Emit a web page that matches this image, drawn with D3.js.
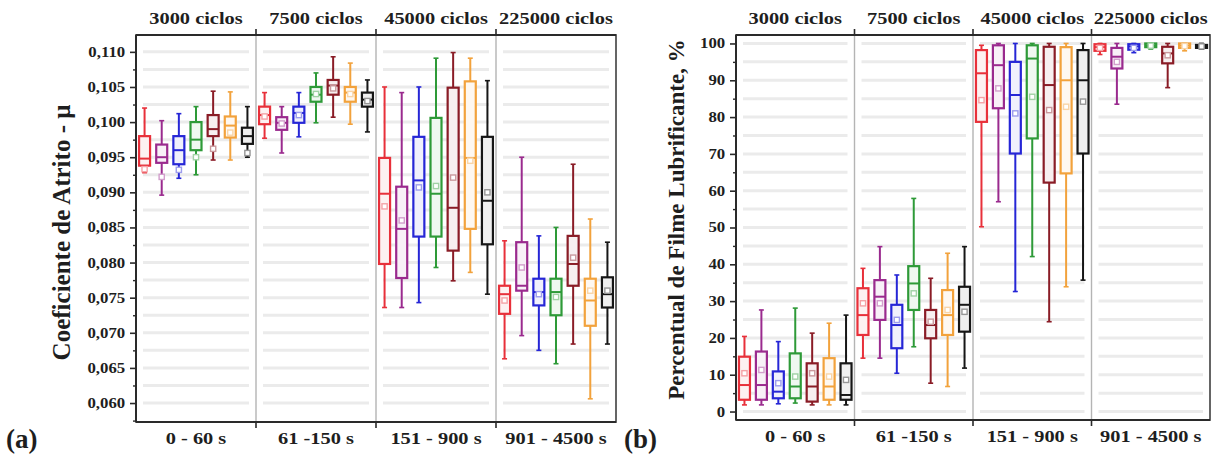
<!DOCTYPE html>
<html>
<head>
<meta charset="utf-8">
<script src="https://cdn.jsdelivr.net/npm/d3@7"></script>
<style>
  body { margin: 0; background: #fff; }
  svg { display: block; }
  text { font-family: "Liberation Serif", "Times New Roman", Times, serif; font-weight: bold; fill: #1e1e1e; }
</style>
</head>
<body>
<svg id="fig" width="1214" height="457"></svg>
<script>
// Test intervals (bottom axis) and accumulated cycles (top axis)
const intervals = ["0 - 60 s", "61 -150 s", "151 - 900 s", "901 - 4500 s"];
const cycles = ["3000 ciclos", "7500 ciclos", "45000 ciclos", "225000 ciclos"];

// Seven samples, one colour each
const samples = ["A1", "A2", "A3", "A4", "A5", "A6", "A7"];
const sampleColors = ["#e8303a", "#9a2a8e", "#2626d6", "#2e9a38", "#8a1c26", "#f2a23c", "#161616"];

// Tick values
const frictionTicks = [0.060, 0.065, 0.070, 0.075, 0.080, 0.085, 0.090, 0.095, 0.100, 0.105, 0.110];
const filmTicks = [0, 10, 20, 30, 40, 50, 60, 70, 80, 90, 100];

// Coefficient of friction: [min, q1, median, q3, max, mean] per sample
const friction0to60 = [
  [0.0928, 0.0938, 0.0948, 0.0980, 0.1020, 0.0933],
  [0.0896, 0.0942, 0.0950, 0.0968, 0.1002, 0.0922],
  [0.0920, 0.0940, 0.0960, 0.0980, 0.1012, 0.0932],
  [0.0925, 0.0960, 0.0975, 0.1000, 0.1022, 0.0950],
  [0.0946, 0.0980, 0.0990, 0.1010, 0.1044, 0.0962],
  [0.0946, 0.0978, 0.0995, 0.1008, 0.1043, 0.0985],
  [0.0950, 0.0969, 0.0980, 0.0992, 0.1022, 0.0956]
];
const friction61to150 = [
  [0.0977, 0.0997, 0.1010, 0.1022, 0.1042, 0.1008],
  [0.0956, 0.0989, 0.0999, 0.1007, 0.1022, 0.0998],
  [0.0979, 0.0999, 0.1013, 0.1022, 0.1042, 0.1010],
  [0.0999, 0.1029, 0.1039, 0.1050, 0.1070, 0.1040],
  [0.1007, 0.1039, 0.1052, 0.1060, 0.1093, 0.1048],
  [0.0997, 0.1029, 0.1042, 0.1050, 0.1084, 0.1040],
  [0.0986, 0.1022, 0.1032, 0.1042, 0.1060, 0.1030]
];
const friction151to900 = [
  [0.0736, 0.0798, 0.0898, 0.0949, 0.1050, 0.0880],
  [0.0736, 0.0778, 0.0848, 0.0908, 0.1042, 0.0860],
  [0.0743, 0.0837, 0.0917, 0.0979, 0.1050, 0.0907],
  [0.0793, 0.0837, 0.0898, 0.1006, 0.1091, 0.0909],
  [0.0774, 0.0817, 0.0878, 0.1049, 0.1099, 0.0921],
  [0.0786, 0.0848, 0.0949, 0.1058, 0.1091, 0.0945],
  [0.0755, 0.0826, 0.0888, 0.0979, 0.1059, 0.0900]
];
const friction901to4500 = [
  [0.0663, 0.0727, 0.0755, 0.0767, 0.0831, 0.0746],
  [0.0696, 0.0760, 0.0767, 0.0829, 0.0950, 0.0793],
  [0.0675, 0.0739, 0.0758, 0.0777, 0.0838, 0.0755],
  [0.0656, 0.0725, 0.0758, 0.0777, 0.0850, 0.0751],
  [0.0684, 0.0767, 0.0798, 0.0838, 0.0940, 0.0807],
  [0.0606, 0.0710, 0.0746, 0.0777, 0.0862, 0.0760],
  [0.0684, 0.0736, 0.0755, 0.0779, 0.0829, 0.0760]
];

// Lubricant film percentage: [min, q1, median, q3, max, mean] per sample
const film0to60 = [
  [1.8, 3.2, 7.2, 14.9, 20.4, 10.4],
  [1.8, 3.2, 7.2, 16.3, 27.6, 11.3],
  [2.1, 3.6, 5.4, 10.9, 19.0, 7.7],
  [2.3, 3.6, 6.8, 15.8, 28.1, 9.5],
  [1.8, 2.7, 6.8, 13.1, 21.3, 10.4],
  [1.8, 3.2, 6.8, 14.5, 24.0, 9.5],
  [1.8, 3.2, 4.5, 13.1, 26.2, 8.6]
];
const film61to150 = [
  [14.5, 20.8, 26.2, 33.5, 38.9, 29.4],
  [14.5, 24.9, 31.2, 35.7, 44.8, 29.4],
  [10.4, 17.2, 23.5, 29.0, 37.1, 24.9],
  [17.6, 27.6, 34.8, 39.5, 57.9, 32.1],
  [7.7, 19.9, 23.5, 27.6, 36.2, 24.4],
  [6.8, 20.8, 26.2, 33.0, 43.0, 27.6],
  [11.8, 21.7, 29.0, 33.9, 44.8, 27.1]
];
const film151to900 = [
  [50.2, 78.7, 91.9, 98.2, 99.5, 84.6],
  [57.0, 82.4, 94.1, 99.5, 100, 87.8],
  [32.6, 70.1, 86.0, 95.0, 100, 81.0],
  [42.1, 74.2, 95.9, 99.5, 100, 85.5],
  [24.4, 62.2, 88.7, 99.1, 100, 81.9],
  [33.9, 64.7, 90.0, 99.0, 100, 82.8],
  [35.7, 70.1, 90.0, 98.2, 100, 84.2]
];
const film901to4500 = [
  [97.0, 98.0, 99.0, 99.8, 100, 98.8],
  [83.5, 93.2, 96.4, 98.8, 100, 95.0],
  [97.5, 98.3, 99.2, 99.8, 100, 98.8],
  [98.5, 99.0, 99.5, 100, 100, 99.4],
  [88.0, 94.6, 97.3, 99.1, 100, 96.8],
  [98.0, 98.8, 99.4, 100, 100, 99.3],
  [98.5, 98.8, 99.2, 99.6, 100, 99.2]
];

const svg = d3.select("#fig");
const STRETCH = 1.2; // wide, flat lettering of the figure

function drawPanel(cfg) {
  const { x0, x1, y0, y1 } = cfg;
  const g = svg.append("g");

  const y = d3.scaleLinear().domain(cfg.yDomain).range([y1, y0]);
  const xGroup = d3.scaleBand().domain(intervals).range([x0, x1]).padding(0);
  const xSample = d3.scalePoint().domain(samples).range([0, xGroup.bandwidth()]).padding(0.5);
  const boxW = 11;

  // horizontal grid bands, one run per interval
  const gridVals = d3.range(cfg.gridStart, cfg.gridEnd + cfg.gridStep / 2, cfg.gridStep);
  intervals.forEach(iv => {
    const gx0 = xGroup(iv) + 7, gx1 = xGroup(iv) + xGroup.bandwidth() - 7;
    g.append("g").selectAll("line").data(gridVals).join("line")
      .attr("x1", gx0).attr("x2", gx1)
      .attr("y1", d => y(d)).attr("y2", d => y(d))
      .attr("stroke", "#ebebeb").attr("stroke-width", 3);
  });

  // interval dividers
  const dividers = intervals.slice(1);
  g.append("g").selectAll("line").data(dividers).join("line")
    .attr("x1", d => xGroup(d)).attr("x2", d => xGroup(d))
    .attr("y1", y0).attr("y2", y1)
    .attr("stroke", "#b4b4b4").attr("stroke-width", 1.4);

  // boxes
  cfg.groups.forEach((groupData, gi) => {
    const iv = intervals[gi];
    const gg = g.append("g").attr("transform", `translate(${xGroup(iv)},0)`);
    const item = gg.selectAll("g").data(groupData).join("g")
      .attr("transform", (d, i) => `translate(${xSample(samples[i])},0)`);
    const col = (d, i) => sampleColors[i];
    const pale = (d, i) => d3.interpolateRgb("#ffffff", sampleColors[i])(0.45);
    item.append("line").attr("x1", 0).attr("x2", 0)
      .attr("y1", d => y(d[0])).attr("y2", d => y(d[4]))
      .attr("stroke", col).attr("stroke-width", 2);
    item.append("line").attr("x1", -2.5).attr("x2", 2.5)
      .attr("y1", d => y(d[4])).attr("y2", d => y(d[4]))
      .attr("stroke", col).attr("stroke-width", 1.6);
    item.append("line").attr("x1", -2.5).attr("x2", 2.5)
      .attr("y1", d => y(d[0])).attr("y2", d => y(d[0]))
      .attr("stroke", col).attr("stroke-width", 1.6);
    item.append("rect")
      .attr("x", -boxW / 2).attr("width", boxW)
      .attr("y", d => y(d[3])).attr("height", d => Math.max(1, y(d[1]) - y(d[3])))
      .attr("fill", (d, i) => d3.interpolateRgb("#ffffff", sampleColors[i])(0.07))
      .attr("stroke", col).attr("stroke-width", 2.2);
    item.append("line").attr("x1", -boxW / 2).attr("x2", boxW / 2)
      .attr("y1", d => y(d[2])).attr("y2", d => y(d[2]))
      .attr("stroke", col).attr("stroke-width", 2);
    item.append("rect")
      .attr("x", -2.6).attr("width", 5.2)
      .attr("y", d => y(d[5]) - 2.6).attr("height", 5.2)
      .attr("fill", "#fff").attr("stroke", pale).attr("stroke-width", 1.4);
  });

  // frame
  g.append("rect").attr("x", x0).attr("y", y0).attr("width", x1 - x0).attr("height", y1 - y0)
    .attr("fill", "none").attr("stroke", "#555").attr("stroke-width", 1.8);
  g.append("line").attr("x1", x0).attr("x2", x1).attr("y1", y1).attr("y2", y1)
    .attr("stroke", "#2a2a2a").attr("stroke-width", 2);
  g.append("line").attr("x1", x0).attr("x2", x0).attr("y1", y0).attr("y2", y1)
    .attr("stroke", "#2a2a2a").attr("stroke-width", 2);
  g.append("line").attr("x1", x0).attr("x2", x1).attr("y1", y0).attr("y2", y0)
    .attr("stroke", "#2a2a2a").attr("stroke-width", 2);

  // divider ticks on the top and bottom axes
  g.append("g").selectAll("line").data(dividers).join("line")
    .attr("x1", d => xGroup(d)).attr("x2", d => xGroup(d))
    .attr("y1", y1).attr("y2", y1 + 6).attr("stroke", "#2a2a2a").attr("stroke-width", 1.6);
  g.append("g").selectAll("line").data(dividers).join("line")
    .attr("x1", d => xGroup(d)).attr("x2", d => xGroup(d))
    .attr("y1", y0).attr("y2", y0 - 6).attr("stroke", "#2a2a2a").attr("stroke-width", 1.6);

  // y axis: major ticks with labels and minor ticks between
  const minor = cfg.ticks.slice(0, -1).map((t, i) => (t + cfg.ticks[i + 1]) / 2)
    .concat([cfg.ticks[0] - (cfg.ticks[1] - cfg.ticks[0]) / 2]).filter(v => y(v) <= y1);
  const axMinor = g.append("g").attr("transform", `translate(${x0},0)`)
    .call(d3.axisLeft(y).tickValues(minor).tickSize(3).tickFormat(""));
  axMinor.select(".domain").remove();
  axMinor.selectAll("line").attr("stroke", "#2a2a2a").attr("stroke-width", 1.4);
  const axMajor = g.append("g").attr("transform", `translate(${x0},0)`)
    .call(d3.axisLeft(y).tickValues(cfg.ticks).tickSize(6).tickPadding(3).tickFormat(cfg.fmt));
  axMajor.select(".domain").remove();
  axMajor.selectAll("line").attr("stroke", "#2a2a2a").attr("stroke-width", 1.6);
  axMajor.selectAll("text")
    .attr("font-size", 14).attr("fill", "#222")
    .attr("transform", `scale(${STRETCH},1)`);

  // interval labels (bottom) and cycle labels (top)
  intervals.forEach((iv, i) => {
    const cx = xGroup(iv) + xGroup.bandwidth() / 2;
    g.append("text").attr("transform", `translate(${cx},${y1 + 22}) scale(${STRETCH},1)`)
      .attr("text-anchor", "middle").attr("font-size", 17).text(iv);
    g.append("text").attr("transform", `translate(${cx},${y0 - 11}) scale(${STRETCH},1)`)
      .attr("text-anchor", "middle").attr("font-size", 17).text(cycles[i]);
  });

  // y title
  g.append("text")
    .attr("transform", `translate(${cfg.titleX},${(y0 + y1) / 2 + cfg.titleDy}) rotate(-90)`)
    .attr("text-anchor", "middle").attr("dy", "0.35em")
    .attr("font-size", cfg.titleSize).text(cfg.title);

  // panel letter
  g.append("text").attr("x", cfg.letterX).attr("y", 448)
    .attr("font-size", 27).text(cfg.letter);
}

const commaFmt = d => d3.format(".3f")(d).replace(".", ",");

drawPanel({
  x0: 136, x1: 616, y0: 35, y1: 422,
  yDomain: [0.0573, 0.1124],
  ticks: frictionTicks, fmt: commaFmt,
  gridStart: 0.060, gridEnd: 0.110, gridStep: 0.0025,
  groups: [friction0to60, friction61to150, friction151to900, friction901to4500],
  title: "Coeficiente de Atrito - \u03bc", titleX: 61, titleDy: 4, titleSize: 25,
  letter: "(a)", letterX: 6
});

drawPanel({
  x0: 736, x1: 1210, y0: 35, y1: 420,
  yDomain: [-2.3, 102.3],
  ticks: filmTicks, fmt: d3.format("d"),
  gridStart: 0, gridEnd: 100, gridStep: 5,
  groups: [film0to60, film61to150, film151to900, film901to4500],
  title: "Percentual de Filme Lubrificante, %", titleX: 676, titleDy: -8, titleSize: 23,
  letter: "(b)", letterX: 624
});
</script>
</body>
</html>
